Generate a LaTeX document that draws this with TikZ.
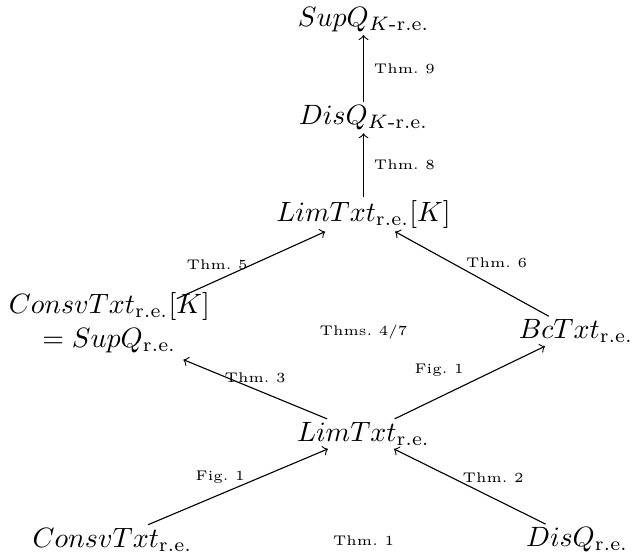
\documentclass[tikz,border=0pt]{standalone}
\usepackage{amsmath}
\usetikzlibrary{positioning}

\begin{document}
\begin{tikzpicture}
    [
        node distance=13.3mm and 26.85mm, on grid, auto,
        class_node/.style={inner sep=1pt},
        thm_label/.style={font=\tiny, inner sep=2pt},
        thm_arrow/.style={->, line width=0.4pt},
    ]
        \node[class_node] (lim) {$LimTxt_{\mathrm{r.e.}}$} ;
        \node[class_node] (consv) [below left = 13.3mm and 31.55mm of lim] {$ConsvTxt_{\mathrm{r.e.}}$} ;
        \node[class_node] (disq) [below right = of lim] {$DisQ_{\mathrm{r.e.}}$} ;
        \node[class_node, align=center, inner sep=0pt] (consvK) [above left = 13.16mm and 31.95mm of lim]
            {\raisebox{0pt}[5.1pt]{$ConsvTxt_{\mathrm{r.e.}}[K]$}\\$= SupQ_{\mathrm{r.e.}}$\rule[-4.3pt]{0pt}{4.3pt}} ;
        \node[class_node] (bc) [above right = 12.9mm and 26.7mm of lim] {$BcTxt_{\mathrm{r.e.}}$} ;
        \node[class_node] (limK) [above = 27.6mm of lim] {$LimTxt_{\mathrm{r.e.}}[K]$} ;
        \node[class_node] (disK) [above = 12.15mm of limK] {$DisQ_{K\text{-r.e.}}$} ;
        \node[class_node] (supK) [above = 12.35mm of disK] {$SupQ_{K\text{-r.e.}}$} ;
        \node[thm_label] (thm1) [below = 13.4mm of lim] {Thm.~1} ;
        \node[thm_label] (thm47) [above = 12.8mm of lim] {Thms.~4/7} ;
        \draw[thm_arrow] (consv) -- node[thm_label, pos=0.54, above left, inner sep=0pt] {Fig.~1} (lim) ;
        \draw[thm_arrow] (disq) -- node[thm_label, pos=0.55, above right, inner sep=0pt] {Thm.~2} (lim) ;
        \draw[thm_arrow] (lim) -- node[thm_label, above] {Thm.~3} (consvK) ;
        \draw[thm_arrow] (lim) -- node[thm_label, above left] {Fig.~1} (bc) ;
        \draw[thm_arrow] (consvK) -- node[thm_label, left, inner sep=1pt] {Thm.~5} (limK) ;
        \draw[thm_arrow] (bc) -- node[thm_label, pos=0.55, above right, inner sep=0.5pt] {Thm.~6} (limK) ;
        \draw[thm_arrow] (limK) -- node[thm_label, right=1.5pt] {Thm.~8} (disK) ;
        \draw[thm_arrow] (disK) -- node[thm_label, right=1.5pt] {Thm.~9} (supK) ;
        \useasboundingbox ([shift={(-130pt,-40.35pt)}]lim.center) rectangle ([shift={(89.3pt,155.15pt)}]lim.center) ;
    \end{tikzpicture}
\end{document}
